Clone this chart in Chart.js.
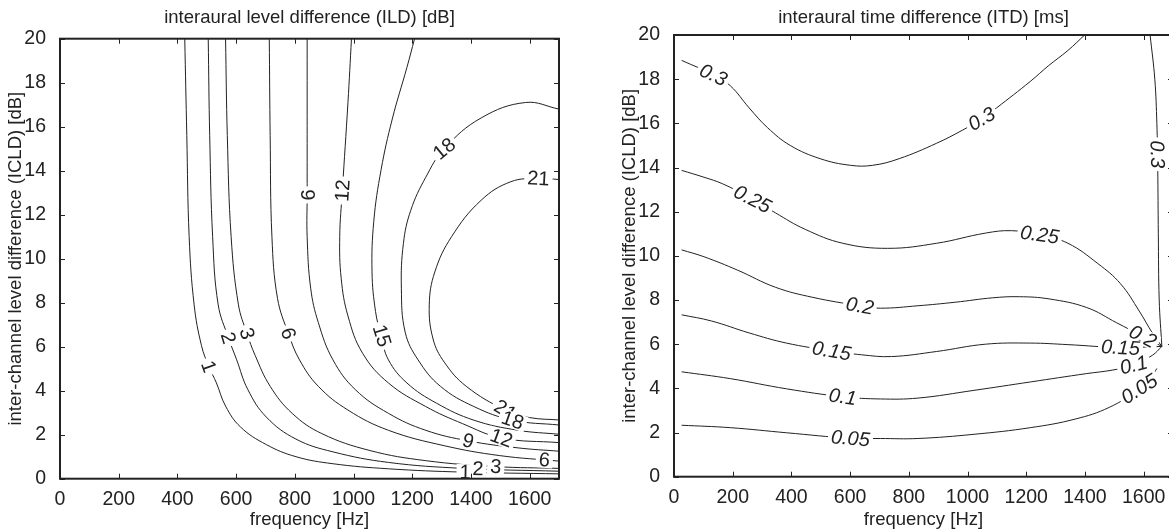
<!DOCTYPE html>
<html>
<head>
<meta charset="utf-8">
<script src="https://cdn.jsdelivr.net/npm/chart.js@4.4.1/dist/chart.umd.min.js"></script>
<style>
  html, body { margin: 0; padding: 0; background: #fff; overflow: hidden; }
  body { width: 1169px; height: 531px; position: relative; }
  .panel { position: absolute; top: 0; width: 580px; height: 531px; }
  #ildPanel { left: 0; }
  #itdPanel { left: 614px; }
</style>
</head>
<body>
<div class="panel" id="ildPanel"><canvas id="ildChart" width="580" height="531"></canvas></div>
<div class="panel" id="itdPanel"><canvas id="itdChart" width="580" height="531"></canvas></div>
<script>
// tick values shared by both panels
const freqTicks = [0, 200, 400, 600, 800, 1000, 1200, 1400, 1600];
const levelTicks = [0, 2, 4, 6, 8, 10, 12, 14, 16, 18, 20];

// ILD contours: [frequency Hz, ICLD dB]
const ild1 = [[425,20],[432,15.6],[440,11],[457,7.9],[482,6.05],[507,5.1],[533,4.35],[564,3.3],[615,2.35],[703,1.55],[804,1.0],[930,0.68],[1119,0.45],[1372,0.3],[1700,0.22]];
const ild2 = [[505,20],[510,15.6],[520,11],[539,7.9],[574,6.4],[602,5.4],[640,4.05],[703,2.8],[804,1.8],[930,1.22],[1119,0.74],[1372,0.47],[1700,0.34]];
const ild3 = [[564,20],[570,15.6],[583,11],[608,7.9],[637,6.6],[665,5.6],[716,4.2],[791,2.97],[892,2.05],[1056,1.28],[1246,0.82],[1485,0.55],[1700,0.47]];
const ild6 = [[713,20],[716,15.6],[722,11],[741,8.2],[778,6.6],[816,5.4],[880,4.2],[981,3.12],[1119,2.2],[1309,1.5],[1498,1.05],[1700,0.8]];
const ild9 = [[842,20],[842,12.9],[842,11],[854,8.66],[880,7.1],[930,5.4],[1006,4.05],[1119,2.97],[1246,2.2],[1391,1.72],[1561,1.4],[1700,1.25]];
const ild12 = [[993,20],[981,17.1],[962,13.1],[953,11],[958,9.1],[981,7.4],[1031,5.7],[1119,4.35],[1246,3.28],[1372,2.5],[1504,1.85],[1700,1.64]];
const ild15 = [[1208,20],[1182,18.7],[1132,16.35],[1094,14.05],[1069,11.7],[1063,9.4],[1075,7.6],[1094,6.5],[1119,5.4],[1182,4.35],[1283,3.43],[1410,2.66],[1561,2.2],[1700,2.02]];
const ild18 = [[1700,16.8],[1586,17.1],[1435,16.4],[1309,15],[1246,13.7],[1195,12.2],[1170,10.7],[1163,8.66],[1176,6.66],[1220,5.4],[1296,4.2],[1410,3.28],[1542,2.66],[1700,2.44]];
const ild21 = [[1700,13.6],[1630,13.65],[1536,13.5],[1435,12.66],[1334,11],[1277,9.4],[1258,7.9],[1271,6.35],[1309,5.3],[1384,4.2],[1517,3.12],[1599,2.78],[1700,2.67]];
const ildLabels = [['1',507,5.1],['2',574,6.4],['3',637,6.6],['6',778,6.6],['9',842,12.9],['12',962,13.1],['15',1097,6.5],
  ['18',1309,15],['21',1630,13.65],['21',1517,3.12],['18',1542,2.66],['9',1391,1.72],['12',1504,1.85],['6',1650,0.86],
  ['3',1485,0.55],['1',1380,0.3],['2',1424,0.46]];

// ITD contours: [frequency Hz, ICLD dB]
const itd30a = [[26,18.85],[134,18.2],[192,17.7],[256,16.7],[319,15.8],[396,15],[498,14.4],[601,14.1],[677,14.1],[767,14.4],[895,15.1],[984,15.7],[1048,16.2],[1099,16.7],[1214,17.9],[1275,18.6],[1342,19.3],[1399,20]];
const itd30b = [[1622,20],[1638,18],[1645,16],[1648,14],[1650,11],[1653,8],[1662,5.9]];
const itd25 = [[26,13.87],[102,13.56],[166,13.26],[268,12.57],[345,11.95],[447,11.2],[575,10.57],[728,10.34],[895,10.57],[1061,11.03],[1150,11.14],[1246,10.96],[1342,10.57],[1444,9.65],[1521,8.74],[1585,7.5],[1630,6.5],[1662,5.9]];
const itd20 = [[26,10.27],[102,9.96],[217,9.35],[345,8.58],[473,8.12],[633,7.74],[703,7.63],[831,7.74],[958,7.9],[1086,8.1],[1176,8.15],[1278,8.05],[1406,7.66],[1508,6.97],[1597,6.35],[1662,5.9]];
const itd15 = [[26,7.33],[128,7.05],[256,6.51],[383,6.05],[537,5.7],[639,5.52],[741,5.44],[895,5.67],[1061,6.0],[1214,6.05],[1342,5.98],[1521,5.85],[1662,5.9]];
const itd10 = [[26,4.75],[192,4.44],[383,3.98],[575,3.62],[703,3.52],[831,3.56],[1022,3.91],[1214,4.29],[1406,4.67],[1495,4.83],[1566,5.06],[1630,5.5],[1662,5.9]];
const itd05 = [[26,2.33],[192,2.22],[383,1.99],[601,1.74],[703,1.73],[831,1.73],[1022,1.92],[1214,2.22],[1367,2.61],[1483,3.14],[1585,3.98],[1630,4.6],[1645,4.9]];
const itdLabels = [['0.3',134,18.2],['0.3',1048,16.2],['0.3',1647,14.6],['0.25',268,12.57],['0.25',1246,10.96],['0.2',633,7.74],['0.2',1597,6.35],
  ['0.15',537,5.7],['0.15',1521,5.85],['0.1',575,3.62],['0.1',1566,5.06],['0.05',601,1.74],['0.05',1585,3.98]];

const FAMILY = '"Liberation Sans", Arial, Helvetica, sans-serif';
const INK = '#222';

// angle of the nearest contour segment, kept upright
function localAngle(chart, px, py) {
    const {x, y} = chart.scales;
    let best = Infinity, ang = 0;
    chart.data.datasets.forEach(ds => {
        for (let i = 1; i < ds.data.length; i++) {
            const ax = x.getPixelForValue(ds.data[i - 1].x), ay = y.getPixelForValue(ds.data[i - 1].y);
            const bx = x.getPixelForValue(ds.data[i].x), by = y.getPixelForValue(ds.data[i].y);
            const dx = bx - ax, dy = by - ay, L = dx * dx + dy * dy;
            let t = L ? ((px - ax) * dx + (py - ay) * dy) / L : 0;
            t = Math.max(0, Math.min(1, t));
            const d = Math.hypot(ax + t * dx - px, ay + t * dy - py);
            if (d < best) { best = d; ang = Math.atan2(dy, dx); }
        }
    });
    if (ang > Math.PI / 2 + 1e-6) ang -= Math.PI;
    if (ang <= -Math.PI / 2 + 1e-6) ang += Math.PI;
    return ang;
}

const contourLabels = {
    id: 'contourLabels',
    afterDatasetsDraw(chart, args, o) {
        const {ctx, scales: {x, y}} = chart;
        ctx.save();
        ctx.font = o.font;
        ctx.textAlign = 'center';
        ctx.textBaseline = 'middle';
        o.items.forEach(([text, lx, ly]) => {
            const px = x.getPixelForValue(lx), py = y.getPixelForValue(ly);
            const ang = localAngle(chart, px, py);
            const w = ctx.measureText(text).width;
            ctx.save();
            ctx.translate(px, py);
            ctx.rotate(ang);
            ctx.fillStyle = '#fff';
            ctx.fillRect(-w / 2 - 3, -o.size * 0.4, w + 6, o.size * 0.8);
            ctx.fillStyle = INK;
            ctx.fillText(text, 0, 1);
            ctx.restore();
        });
        ctx.restore();
    }
};

// box round the plot with inward tick marks (matlab style)
const boxTicks = {
    id: 'boxTicks',
    afterDraw(chart) {
        const {ctx, chartArea: a, scales: {x, y}} = chart;
        ctx.save();
        ctx.strokeStyle = INK;
        ctx.lineWidth = 1;
        ctx.beginPath();
        freqTicks.forEach(v => {
            const px = Math.round(x.getPixelForValue(v)) + 0.5;
            ctx.moveTo(px, a.bottom); ctx.lineTo(px, a.bottom - 5);
            ctx.moveTo(px, a.top); ctx.lineTo(px, a.top + 5);
        });
        levelTicks.forEach(v => {
            const py = Math.round(y.getPixelForValue(v)) + 0.5;
            ctx.moveTo(a.left, py); ctx.lineTo(a.left + 5, py);
            ctx.moveTo(a.right, py); ctx.lineTo(a.right - 5, py);
        });
        ctx.stroke();
        ctx.lineWidth = 2;
        ctx.strokeRect(a.left, a.top, a.right - a.left, a.bottom - a.top);
        ctx.restore();
    }
};

function makeChart(id, title, lines, labels, labelFont, titleBottom, xHeight) {
    return new Chart(document.getElementById(id), {
        type: 'scatter',
        data: {
            datasets: lines.map(pts => ({
                data: pts.map(([fx, fy]) => ({x: fx, y: fy})),
                showLine: true,
                borderColor: INK,
                borderWidth: 1,
                pointRadius: 0,
                tension: 0.4
            }))
        },
        options: {
            responsive: false,
            animation: false,
            events: [],
            layout: { padding: { left: 0, right: 21, top: 0, bottom: 0 } },
            plugins: {
                legend: { display: false },
                tooltip: { enabled: false },
                title: {
                    display: true, text: title, color: INK, fullSize: false,
                    font: { family: FAMILY, size: 18.5, weight: 'normal' },
                    padding: { top: 7, bottom: titleBottom }
                },
                contourLabels: { items: labels, font: labelFont, size: 20 }
            },
            scales: {
                x: {
                    type: 'linear', min: 0, max: 1700,
                    afterBuildTicks: s => { s.ticks = freqTicks.map(v => ({value: v})); },
                    afterFit: s => { s.height = xHeight; },
                    grid: { display: false },
                    border: { display: false },
                    ticks: { color: INK, padding: 1, maxRotation: 0, autoSkip: false, callback: v => String(v), font: { family: FAMILY, size: 19.5 } },
                    title: { display: true, text: 'frequency [Hz]', color: INK, font: { family: FAMILY, size: 18.5 }, padding: { top: 0, bottom: 0 } }
                },
                y: {
                    type: 'linear', min: 0, max: 20,
                    afterBuildTicks: s => { s.ticks = levelTicks.map(v => ({value: v})); },
                    afterFit: s => { s.width = 60; },
                    grid: { display: false },
                    border: { display: false },
                    ticks: { color: INK, padding: 6, autoSkip: false, callback: v => String(v), font: { family: FAMILY, size: 19.5 } },
                    title: { display: true, text: 'inter-channel level difference (ICLD) [dB]', color: INK, font: { family: FAMILY, size: 18.5 }, padding: { top: 5, bottom: 0 } }
                }
            }
        },
        plugins: [contourLabels, boxTicks]
    });
}

makeChart('ildChart', 'interaural level difference (ILD) [dB]',
    [ild1, ild2, ild3, ild6, ild9, ild12, ild15, ild18, ild21], ildLabels,
    '20px ' + FAMILY, 9.5, 52.3);
makeChart('itdChart', 'interaural time difference (ITD) [ms]',
    [itd30a, itd30b, itd25, itd20, itd15, itd10, itd05], itdLabels,
    'italic 20px ' + FAMILY, 5.8, 54.3);
</script>
</body>
</html>
